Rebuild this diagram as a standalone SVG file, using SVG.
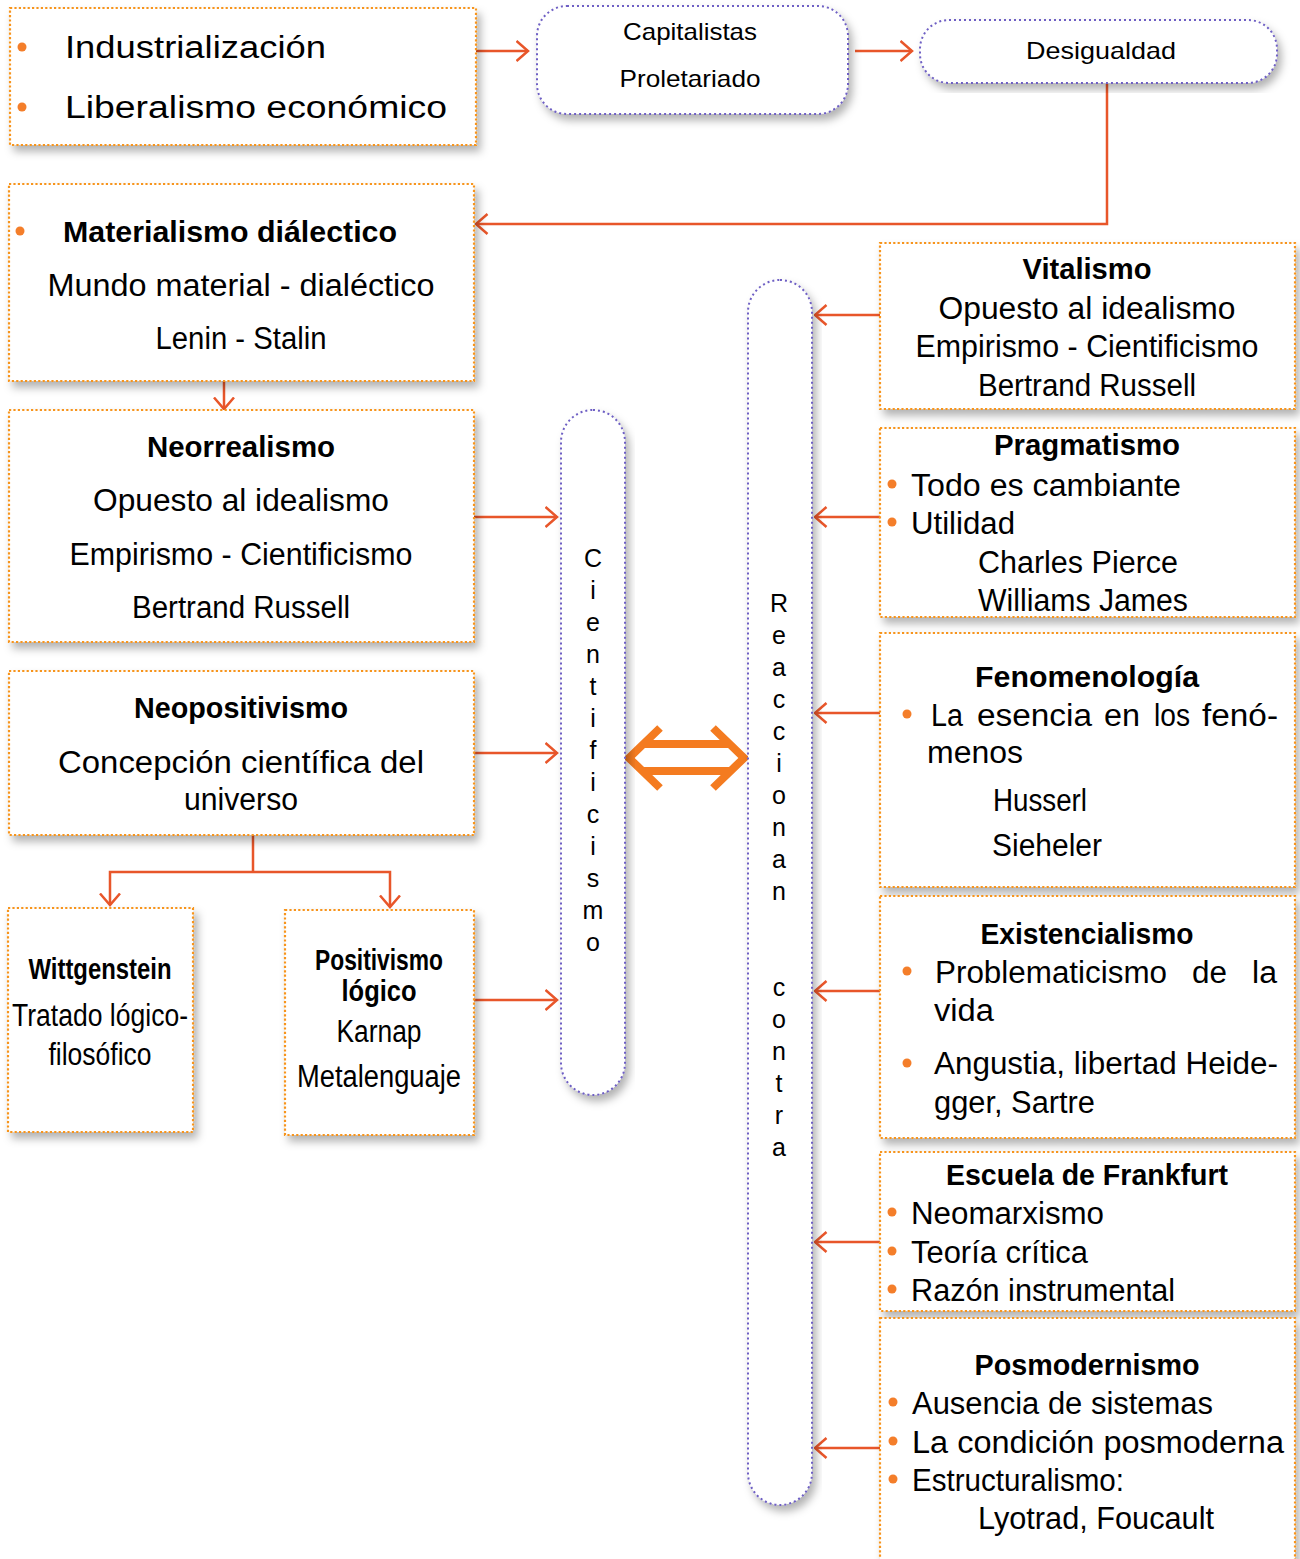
<svg xmlns="http://www.w3.org/2000/svg" width="1300" height="1559" viewBox="0 0 1300 1559">
<defs>
<filter id="sh" x="-10%" y="-10%" width="125%" height="125%">
<feDropShadow dx="4" dy="6" stdDeviation="4" flood-color="#000" flood-opacity="0.3"/>
</filter>
<marker id="ah" viewBox="0 0 14 22" refX="12.5" refY="11" markerWidth="14" markerHeight="22" orient="auto" markerUnits="userSpaceOnUse">
<path d="M1,1 L12.5,11 L1,21" fill="none" stroke="#E8562A" stroke-width="2.5"/>
</marker>
</defs>
<style>
.box{fill:#fff;stroke:#F7941D;stroke-width:2.2;stroke-dasharray:2.2 2.2;filter:url(#sh)}
.cap{fill:#fff;stroke:#6E5FC4;stroke-width:2;stroke-dasharray:2 3;filter:url(#sh)}
.con{fill:none;stroke:#E8562A;stroke-width:2.5;marker-end:url(#ah)}
.ln{fill:none;stroke:#E8562A;stroke-width:2.5}
.t{font-family:"Liberation Sans",Arial,sans-serif;fill:#000;font-size:31px}
.b{font-family:"Liberation Sans",Arial,sans-serif;fill:#000;font-weight:bold;font-size:29px}
.m{text-anchor:middle}
.s{font-size:24px}
.bul{fill:#F47E2A}
.v{font-family:"Liberation Sans",Arial,sans-serif;fill:#000;font-size:25px;text-anchor:middle}
</style>

<g id="connectors">
<path class="con" d="M476,51 H528"/>
<path class="con" d="M855,51 H912"/>
<path class="con" d="M1107,84 V224 H476"/>
<path class="con" d="M224,381 V409"/>
<path class="con" d="M474,517 H557"/>
<path class="con" d="M474,753 H557"/>
<path class="ln" d="M253,835 V872"/>
<path class="con" d="M253,872 H110 V905"/>
<path class="con" d="M253,872 H390 V907"/>
<path class="con" d="M474,1000 H557"/>
<path class="con" d="M880,315 H815"/>
<path class="con" d="M880,517 H815"/>
<path class="con" d="M880,713 H815"/>
<path class="con" d="M880,991 H815"/>
<path class="con" d="M880,1242 H815"/>
<path class="con" d="M880,1448 H815"/>
<path d="M660,728 L629,758 L660,788 M713,728 L744,758 L713,788 M643,744 H730 M642,771 H731" fill="none" stroke="#F47B20" stroke-width="8"/>
</g>

<g id="n-industrializacion">
<rect class="box" x="10" y="8" width="466" height="137"/>
<circle class="bul" cx="22" cy="47" r="4.5"/>
<circle class="bul" cx="22" cy="107" r="4.5"/>
<text class="t" x="65" y="58" font-size="36" textLength="261" lengthAdjust="spacingAndGlyphs">Industrialización</text>
<text class="t" x="65" y="118" font-size="36" textLength="382" lengthAdjust="spacingAndGlyphs">Liberalismo económico</text>
</g>

<g id="n-capitalistas">
<rect class="cap" x="537" y="6" width="311" height="108" rx="30"/>
<text class="t m s" x="690" y="40" textLength="134" lengthAdjust="spacingAndGlyphs">Capitalistas</text>
<text class="t m s" x="690" y="87" textLength="141" lengthAdjust="spacingAndGlyphs">Proletariado</text>
</g>

<g id="n-desigualdad">
<rect class="cap" x="920" y="20" width="357" height="63" rx="29"/>
<text class="t m s" x="1101" y="59" textLength="150" lengthAdjust="spacingAndGlyphs">Desigualdad</text>
</g>

<g id="n-materialismo">
<rect class="box" x="9" y="184" width="465" height="197"/>
<circle class="bul" cx="20" cy="231" r="4.5"/>
<text class="b" x="63" y="242" textLength="334" lengthAdjust="spacingAndGlyphs">Materialismo diálectico</text>
<text class="t m" x="241" y="296" textLength="387" lengthAdjust="spacingAndGlyphs">Mundo material - dialéctico</text>
<text class="t m" x="241" y="349" textLength="171" lengthAdjust="spacingAndGlyphs">Lenin - Stalin</text>
</g>

<g id="n-neorrealismo">
<rect class="box" x="9" y="410" width="465" height="232"/>
<text class="b m" x="241" y="457" textLength="188" lengthAdjust="spacingAndGlyphs">Neorrealismo</text>
<text class="t m" x="241" y="511" textLength="296" lengthAdjust="spacingAndGlyphs">Opuesto al idealismo</text>
<text class="t m" x="241" y="565" textLength="343" lengthAdjust="spacingAndGlyphs">Empirismo - Cientificismo</text>
<text class="t m" x="241" y="618" textLength="218" lengthAdjust="spacingAndGlyphs">Bertrand Russell</text>
</g>

<g id="n-neopositivismo">
<rect class="box" x="9" y="671" width="465" height="164"/>
<text class="b m" x="241" y="718" textLength="214" lengthAdjust="spacingAndGlyphs">Neopositivismo</text>
<text class="t m" x="241" y="773" textLength="366" lengthAdjust="spacingAndGlyphs">Concepción científica del</text>
<text class="t m" x="241" y="810" textLength="114" lengthAdjust="spacingAndGlyphs">universo</text>
</g>

<g id="n-wittgenstein">
<rect class="box" x="8" y="908" width="185" height="224"/>
<text class="b m" x="100" y="979" font-size="23" textLength="143" lengthAdjust="spacingAndGlyphs">Wittgenstein</text>
<text class="t m" x="100" y="1026" font-size="25" textLength="176" lengthAdjust="spacingAndGlyphs">Tratado lógico-</text>
<text class="t m" x="100" y="1065" font-size="25" textLength="103" lengthAdjust="spacingAndGlyphs">filosófico</text>
</g>

<g id="n-positivismo">
<rect class="box" x="285" y="910" width="189" height="225"/>
<text class="b m" x="379" y="970" font-size="23" textLength="128" lengthAdjust="spacingAndGlyphs">Positivismo</text>
<text class="b m" x="379" y="1001" font-size="23" textLength="75" lengthAdjust="spacingAndGlyphs">lógico</text>
<text class="t m" x="379" y="1042" font-size="25" textLength="85" lengthAdjust="spacingAndGlyphs">Karnap</text>
<text class="t m" x="379" y="1087" font-size="25" textLength="164" lengthAdjust="spacingAndGlyphs">Metalenguaje</text>
</g>

<g id="n-cientificismo">
<rect class="cap" x="561" y="410" width="64" height="685" rx="32"/>
<text class="v"><tspan x="593" y="567">C</tspan><tspan x="593" y="599">i</tspan><tspan x="593" y="631">e</tspan><tspan x="593" y="663">n</tspan><tspan x="593" y="695">t</tspan><tspan x="593" y="727">i</tspan><tspan x="593" y="759">f</tspan><tspan x="593" y="791">i</tspan><tspan x="593" y="823">c</tspan><tspan x="593" y="855">i</tspan><tspan x="593" y="887">s</tspan><tspan x="593" y="919">m</tspan><tspan x="593" y="951">o</tspan></text>
</g>

<g id="n-reaccionan">
<rect class="cap" x="748" y="280" width="64" height="1225" rx="32"/>
<text class="v"><tspan x="779" y="612">R</tspan><tspan x="779" y="644">e</tspan><tspan x="779" y="676">a</tspan><tspan x="779" y="708">c</tspan><tspan x="779" y="740">c</tspan><tspan x="779" y="772">i</tspan><tspan x="779" y="804">o</tspan><tspan x="779" y="836">n</tspan><tspan x="779" y="868">a</tspan><tspan x="779" y="900">n</tspan><tspan x="779" y="996">c</tspan><tspan x="779" y="1028">o</tspan><tspan x="779" y="1060">n</tspan><tspan x="779" y="1092">t</tspan><tspan x="779" y="1124">r</tspan><tspan x="779" y="1156">a</tspan></text>
</g>

<g id="n-vitalismo">
<rect class="box" x="880" y="243" width="415" height="166"/>
<text class="b m" x="1087" y="279" textLength="129" lengthAdjust="spacingAndGlyphs">Vitalismo</text>
<text class="t m" x="1087" y="319" textLength="297" lengthAdjust="spacingAndGlyphs">Opuesto al idealismo</text>
<text class="t m" x="1087" y="357" textLength="343" lengthAdjust="spacingAndGlyphs">Empirismo - Cientificismo</text>
<text class="t m" x="1087" y="396" textLength="218" lengthAdjust="spacingAndGlyphs">Bertrand Russell</text>
</g>

<g id="n-pragmatismo">
<rect class="box" x="880" y="428" width="415" height="189"/>
<text class="b m" x="1087" y="455" textLength="186" lengthAdjust="spacingAndGlyphs">Pragmatismo</text>
<circle class="bul" cx="892" cy="484" r="4.5"/>
<circle class="bul" cx="892" cy="522" r="4.5"/>
<text class="t" x="911" y="496" textLength="270" lengthAdjust="spacingAndGlyphs">Todo es cambiante</text>
<text class="t" x="911" y="534" textLength="104" lengthAdjust="spacingAndGlyphs">Utilidad</text>
<text class="t" x="978" y="573" textLength="200" lengthAdjust="spacingAndGlyphs">Charles Pierce</text>
<text class="t" x="978" y="611" textLength="210" lengthAdjust="spacingAndGlyphs">Williams James</text>
</g>

<g id="n-fenomenologia">
<rect class="box" x="880" y="633" width="415" height="254"/>
<text class="b m" x="1087" y="687" textLength="224" lengthAdjust="spacingAndGlyphs">Fenomenología</text>
<circle class="bul" cx="907" cy="714" r="4.5"/>
<text class="t" y="726"><tspan x="931" textLength="32" lengthAdjust="spacingAndGlyphs">La</tspan> <tspan x="977" textLength="115" lengthAdjust="spacingAndGlyphs">esencia</tspan> <tspan x="1104" textLength="36" lengthAdjust="spacingAndGlyphs">en</tspan> <tspan x="1154" textLength="36" lengthAdjust="spacingAndGlyphs">los</tspan> <tspan x="1202" textLength="76" lengthAdjust="spacingAndGlyphs">fenó-</tspan></text>
<text class="t" x="927" y="763" textLength="96" lengthAdjust="spacingAndGlyphs">menos</text>
<text class="t" x="993" y="811" textLength="94" lengthAdjust="spacingAndGlyphs">Husserl</text>
<text class="t" x="992" y="856" textLength="110" lengthAdjust="spacingAndGlyphs">Sieheler</text>
</g>

<g id="n-existencialismo">
<rect class="box" x="880" y="896" width="415" height="242"/>
<text class="b m" x="1087" y="944" textLength="213" lengthAdjust="spacingAndGlyphs">Existencialismo</text>
<circle class="bul" cx="907" cy="971" r="4.5"/>
<circle class="bul" cx="907" cy="1063" r="4.5"/>
<text class="t" y="983"><tspan x="935" textLength="232" lengthAdjust="spacingAndGlyphs">Problematicismo</tspan> <tspan x="1192" textLength="35" lengthAdjust="spacingAndGlyphs">de</tspan> <tspan x="1252" textLength="25" lengthAdjust="spacingAndGlyphs">la</tspan></text>
<text class="t" x="934" y="1021" textLength="60" lengthAdjust="spacingAndGlyphs">vida</text>
<text class="t" x="934" y="1074" textLength="344" lengthAdjust="spacingAndGlyphs">Angustia, libertad Heide-</text>
<text class="t" x="934" y="1113" textLength="161" lengthAdjust="spacingAndGlyphs">gger, Sartre</text>
</g>

<g id="n-frankfurt">
<rect class="box" x="880" y="1152" width="415" height="159"/>
<text class="b m" x="1087" y="1185" textLength="282" lengthAdjust="spacingAndGlyphs">Escuela de Frankfurt</text>
<circle class="bul" cx="892" cy="1212" r="4.5"/>
<circle class="bul" cx="892" cy="1251" r="4.5"/>
<circle class="bul" cx="892" cy="1289" r="4.5"/>
<text class="t" x="911" y="1224" textLength="193" lengthAdjust="spacingAndGlyphs">Neomarxismo</text>
<text class="t" x="911" y="1263" textLength="177" lengthAdjust="spacingAndGlyphs">Teoría crítica</text>
<text class="t" x="911" y="1301" textLength="264" lengthAdjust="spacingAndGlyphs">Razón instrumental</text>
</g>

<g id="n-posmodernismo">
<rect class="box" x="880" y="1318" width="415" height="250"/>
<text class="b m" x="1087" y="1375" textLength="225" lengthAdjust="spacingAndGlyphs">Posmodernismo</text>
<circle class="bul" cx="893" cy="1402" r="4.5"/>
<circle class="bul" cx="893" cy="1441" r="4.5"/>
<circle class="bul" cx="893" cy="1479" r="4.5"/>
<text class="t" x="912" y="1414" textLength="301" lengthAdjust="spacingAndGlyphs">Ausencia de sistemas</text>
<text class="t" x="912" y="1453" textLength="372" lengthAdjust="spacingAndGlyphs">La condición posmoderna</text>
<text class="t" x="912" y="1491" textLength="212" lengthAdjust="spacingAndGlyphs">Estructuralismo:</text>
<text class="t" x="978" y="1529" textLength="236" lengthAdjust="spacingAndGlyphs">Lyotrad, Foucault</text>
</g>
</svg>
